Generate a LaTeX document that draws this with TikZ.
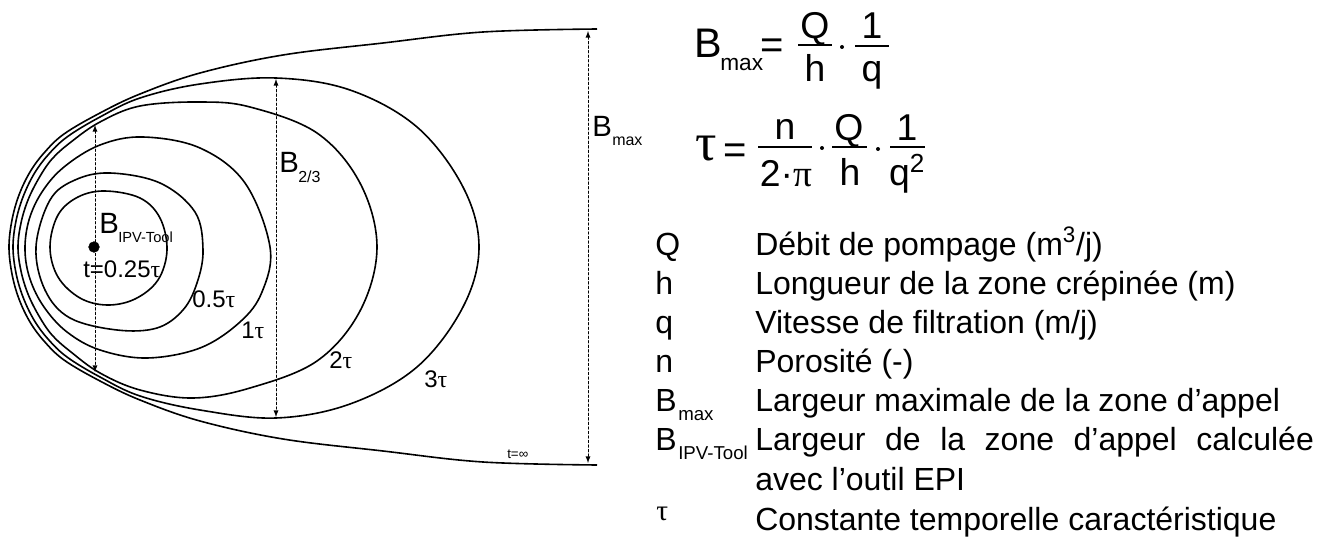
\documentclass[tikz,border=0pt]{standalone}
\usepackage{fontspec}
\setmainfont{Liberation Sans}
\newfontfamily\grk{Liberation Serif}
\usetikzlibrary{arrows,calc}
\usepackage{tkz-euclide}
\newcommand{\fsz}[1]{\fontsize{#1}{#1}\selectfont}
\tikzset{
  zone/.style={line width=1.2pt,black},
  dimline/.style={line width=0.7pt,dash pattern=on 1.8pt off 1.6pt,latex-latex},
  lbl/.style={inner sep=0pt,anchor=base west},
  frac/.style={inner sep=0pt,anchor=base,font=\fsz{28}},
  fbar/.style={line width=1.1pt},
}

\begin{document}
\begin{tikzpicture}[x=0.75pt,y=-0.75pt]
\tkzSetUpLine[line width=1.2pt,color=black]
\tkzSetUpPoint[fill=black]
\useasboundingbox (0,0) rectangle (1332,542);

% t = infinity
\draw[zone] plot[smooth,tension=.6] coordinates {(597,29) (483,32) (383,43) (283,55) (200,73) (140,94) (100,113) (64,134) (44,153) (30,172) (19,195) (12,220) (9,247) (12,274) (19,299) (30,322) (44,341) (64,360) (100,381) (140,400) (200,421) (283,439) (383,451) (483,462) (597,465)};
% isochrones
\draw[zone] plot[smooth cycle,tension=.6] coordinates {(276,78) (350,90) (417,127) (463,187) (479,247) (463,307) (417,367) (350,404) (276,418) (200,410) (140,396) (100,377) (67,357) (48,339) (34,320) (23,297) (16,273) (13,247) (16,221) (23,197) (34,174) (48,155) (67,137) (100,117) (140,98) (200,84)};
\draw[zone] plot[smooth cycle,tension=.6] coordinates {(200,102) (250,107) (317,133) (360,183) (377,247) (360,311) (317,361) (250,388) (193,398) (140,390) (100,373) (71,352) (52,335) (39,316) (28,294) (21,271) (18,247) (21,223) (28,200) (39,178) (52,159) (71,142) (100,122) (140,106)};
\draw[zone] plot[smooth cycle,tension=.6] coordinates {(143,137) (200,148) (245,183) (270,247) (262,292) (240,322) (200,348) (147,358) (100,350) (67,332) (44,307) (30,279) (25,250) (29,220) (42,192) (64,167) (100,145)};
\draw[zone] plot[smooth cycle,tension=.6] coordinates {(110,173) (160,183) (195,212) (203,250) (197,283) (183,310) (157,328) (117,330) (70,318) (45,290) (36,247) (50,200) (75,180)};
\draw[zone] plot[smooth cycle,tension=.6] coordinates {(105,191) (140,198) (160,218) (167,250) (158,280) (135,299) (107,305) (80,298) (58,277) (50,247) (58,215) (78,197)};

\tkzDefPoints{95/125/Ta,95/372/Tb,276/79/Ua,276/417/Ub,588/31/Va,588/463/Vb,94/247/W}
\tkzDrawSegments[dimline](Ta,Tb Ua,Ub Va,Vb)
\tkzDrawPoints[size=8](W)

\node[lbl,font=\fsz{22}] (bipv) at (99,233) {B};
\node[lbl,font=\fsz{11}] (bipvsub) at (118,242) {IPV-Tool};
\node[lbl,font=\fsz{18}] (tq) at (83,277) {t=0.25{\grk τ}};
\node[lbl,font=\fsz{18}] (th) at (192,307) {0.5{\grk τ}};
\node[lbl,font=\fsz{18}] (t1) at (241,338) {1{\grk τ}};
\node[lbl,font=\fsz{18}] (t2) at (329,368) {2{\grk τ}};
\node[lbl,font=\fsz{18}] (t3) at (424,387) {3{\grk τ}};
\node[lbl,font=\fsz{10}] (tinf) at (507,458) {t=∞};
\node[lbl,font=\fsz{22}] (btt) at (279,172) {B};
\node[lbl,font=\fsz{12}] (bttsub) at (298,182) {2/3};
\node[lbl,font=\fsz{22}] (bmx) at (592,137) {B};
\node[lbl,font=\fsz{12}] (bmxsub) at (612,146) {max};

% B_max = Q/h . 1/q
\node[lbl,font=\fsz{31}] (fB) at (694,58) {B};
\node[lbl,font=\fsz{17}] (fBsub) at (720,71) {max};
\node[lbl,font=\fsz{30}] (feq) at (760,59) {=};
\draw[fbar] (798,45) -- (832,45);
\node[frac] (fQ) at (815,39) {Q};
\node[frac] (fh) at (815,82) {h};
\fill (842,47) circle (2);
\draw[fbar] (855,46) -- (889,46);
\node[frac] (f1) at (872,39) {1};
\node[frac] (fq) at (872,82) {q};

% tau = n/(2 pi) . Q/h . 1/q^2
\node[lbl,font=\grk\fsz{40}] (gtau) at (695,160) {τ};
\node[lbl,font=\fsz{30}] (geq) at (723,163) {=};
\draw[fbar] (758,147) -- (812,147);
\node[frac] (gn) at (785,139) {n};
\node[frac] (gpi) at (786,186) {2·{\grk π}};
\fill (822,148) circle (2);
\draw[fbar] (832,147) -- (867,147);
\node[frac] (gQ) at (849,140) {Q};
\node[frac] (gh) at (850,185) {h};
\fill (878,149) circle (2);
\draw[fbar] (890,147) -- (925,147);
\node[frac] (g1) at (907,140) {1};
\node[frac] (gq) at (907,185) {q\textsuperscript{2}};

% legend
\node[lbl,font=\fsz{24}] (sQ) at (655,255) {Q};
\node[lbl,font=\fsz{24}] (dQ) at (755,255) {Débit de pompage (m\textsuperscript{3}/j)};
\node[lbl,font=\fsz{24}] (sh) at (655,294) {h};
\node[lbl,font=\fsz{24}] (dh) at (755,294) {Longueur de la zone crépinée (m)};
\node[lbl,font=\fsz{24}] (sq) at (655,333) {q};
\node[lbl,font=\fsz{24}] (dq) at (755,333) {Vitesse de filtration (m/j)};
\node[lbl,font=\fsz{24}] (sn) at (655,372) {n};
\node[lbl,font=\fsz{24}] (dn) at (755,372) {Porosité (-)};
\node[lbl,font=\fsz{24}] (sB) at (655,411) {B};
\node[lbl,font=\fsz{14}] (sBsub) at (678,420) {max};
\node[lbl,font=\fsz{24}] (dB) at (755,411) {Largeur maximale de la zone d’appel};
\node[lbl,font=\fsz{24}] (sI) at (655,450) {B};
\node[lbl,font=\fsz{14}] (sIsub) at (678,459) {IPV-Tool};
\node[lbl,font=\fsz{24}] (dI) at (755,450) {\makebox[419pt][s]{Largeur de la zone d’appel calculée}};
\node[lbl,font=\fsz{24}] (dI2) at (755,490) {avec l’outil EPI};
\node[lbl,font=\grk\fsz{22}] (st) at (656,520) {τ};
\node[lbl,font=\fsz{24}] (dt) at (755,530) {Constante temporelle caractéristique};

\end{tikzpicture}
\end{document}
